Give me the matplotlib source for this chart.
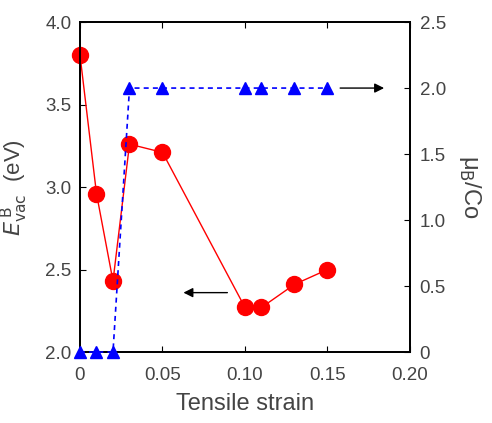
import matplotlib
matplotlib.use('Agg')
import matplotlib.pyplot as plt

plt.rcParams['font.family'] = ['Liberation Sans', 'DejaVu Sans']

strain_e = [0.0, 0.01, 0.02, 0.03, 0.05, 0.10, 0.11, 0.13, 0.15]
e_vac = [3.80, 2.96, 2.43, 3.26, 3.21, 2.27, 2.27, 2.41, 2.50]

strain_m = [0.0, 0.01, 0.02, 0.03, 0.05, 0.10, 0.11, 0.13, 0.15]
moment = [0, 0, 0, 2.0, 2.0, 2.0, 2.0, 2.0, 2.0]

xticks = [0, 0.05, 0.10, 0.15, 0.20]
xlabels = ['0', '0.05', '0.10', '0.15', '0.20']
yticks_l = [2.0, 2.5, 3.0, 3.5, 4.0]
yticks_r = [0, 0.5, 1.0, 1.5, 2.0, 2.5]
ylabels_r = ['0', '0.5', '1.0', '1.5', '2.0', '2.5']

fig = plt.figure(figsize=(4.92, 4.23), dpi=100)
ax = fig.add_axes([0.1626, 0.1678, 0.6707, 0.780])
ax2 = ax.twinx()

ax.plot(strain_e, e_vac, color='red', lw=1.0, marker='o', ms=11.5, clip_on=False, zorder=3)
ax2.plot(strain_m, moment, color='blue', lw=1.2, ls=(0, (3, 2.5)), marker='^', ms=9, clip_on=False, zorder=3)

ax.set_xlim(0, 0.20)
ax.set_ylim(2.0, 4.0)
ax2.set_ylim(0, 2.5)

tc = '#444444'
ax.set_xticks(xticks)
ax.set_xticklabels(xlabels)
ax.set_yticks(yticks_l)
ax.set_yticklabels(['%.1f' % v for v in yticks_l])
ax2.set_yticks(yticks_r)
ax2.set_yticklabels(ylabels_r)

ax.tick_params(axis='x', direction='in', top=True, labelsize=13.5, labelcolor=tc, length=4, pad=11)
ax.tick_params(axis='y', direction='in', labelsize=13.5, labelcolor=tc, length=4, pad=6)
ax2.tick_params(direction='in', labelsize=13.5, labelcolor=tc, length=4, pad=7)

for a in (ax, ax2):
    for s in a.spines.values():
        s.set_linewidth(1.3)

ax.set_xlabel('Tensile strain', fontsize=17, color=tc, labelpad=6)
ax.set_ylabel(r'$E^{\,\mathrm{B}}_{\mathrm{vac}}$  (eV)', fontsize=16, color=tc, labelpad=11)
ax2.set_ylabel('\u03bc$_{\\mathrm{B}}$/Co', fontsize=17, color=tc, rotation=270, labelpad=27)

# arrows pointing to the axes each series belongs to
ax.annotate('', xy=(0.061, 2.36), xytext=(0.091, 2.36),
            arrowprops=dict(arrowstyle='-|>', color='black', lw=1.0, mutation_scale=14))
ax2.annotate('', xy=(0.186, 2.0), xytext=(0.156, 2.0),
             arrowprops=dict(arrowstyle='-|>', color='black', lw=1.0, mutation_scale=14))

fig.savefig('out.png', dpi=100)
